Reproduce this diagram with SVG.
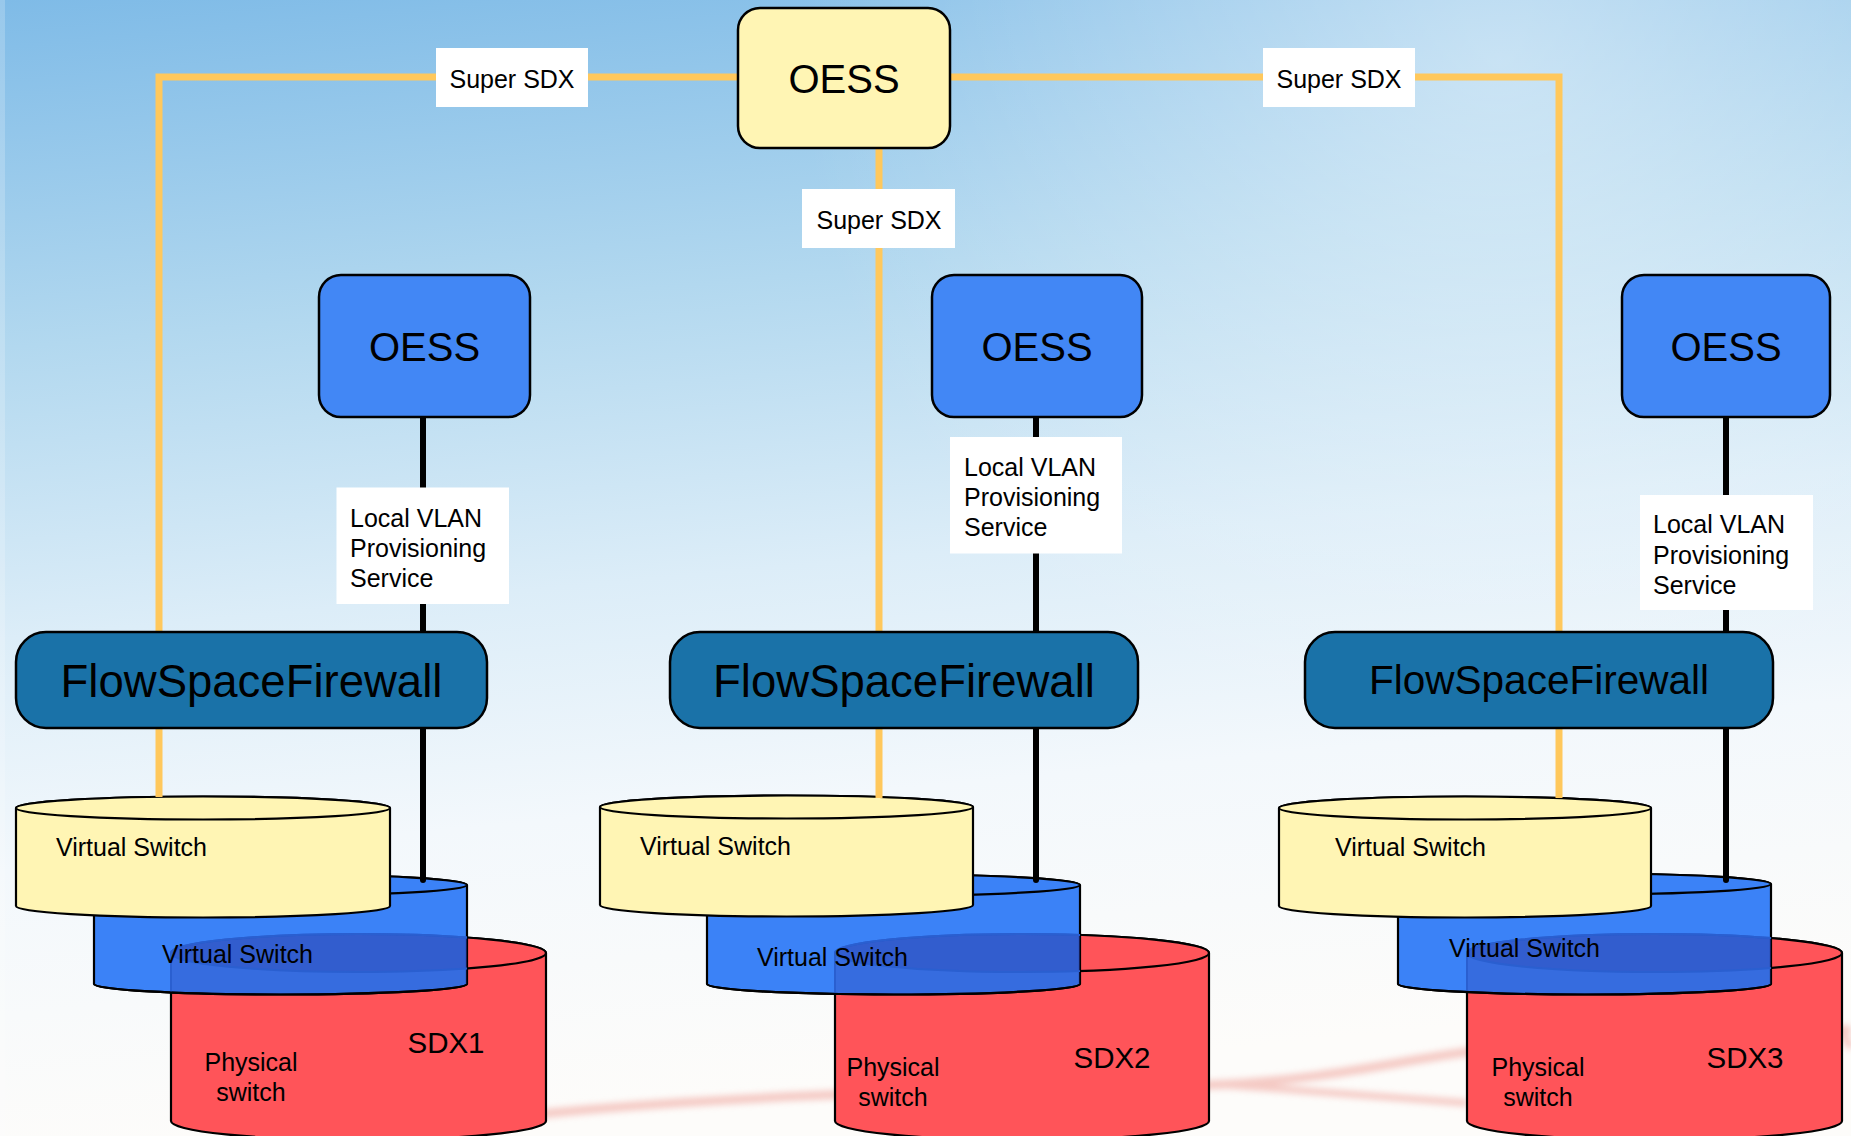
<svg xmlns="http://www.w3.org/2000/svg" width="1851" height="1136" viewBox="0 0 1851 1136">
<defs>
<linearGradient id="bg" x1="0" y1="0" x2="0.15" y2="1">
<stop offset="0" stop-color="#7fbbe7"/>
<stop offset="0.3" stop-color="#b2d8ef"/>
<stop offset="0.55" stop-color="#dcedf8"/>
<stop offset="0.75" stop-color="#f3f8fc"/>
<stop offset="1" stop-color="#fdfcfa"/>
</linearGradient>
<radialGradient id="hl" cx="1500" cy="60" r="700" gradientUnits="userSpaceOnUse">
<stop offset="0" stop-color="#ffffff" stop-opacity="0.45"/>
<stop offset="1" stop-color="#ffffff" stop-opacity="0"/>
</radialGradient>
<filter id="blur" x="-10%" y="-50%" width="120%" height="200%"><feGaussianBlur stdDeviation="3"/></filter>
<clipPath id="cb1"><path d="M94,885 L94,984 A186.5,10.5 0 0 0 467,984 L467,885 A186.5,10.5 0 0 0 94,885 Z"/></clipPath>
<clipPath id="cb2"><path d="M707,885 L707,984 A186.5,10.5 0 0 0 1080,984 L1080,885 A186.5,10.5 0 0 0 707,885 Z"/></clipPath>
<clipPath id="cb3"><path d="M1398,884 L1398,984 A186.5,10.5 0 0 0 1771,984 L1771,884 A186.5,10.5 0 0 0 1398,884 Z"/></clipPath>
</defs>
<style>
text{font-family:"Liberation Sans",Arial,Helvetica,sans-serif;fill:#000}
.oess-top{fill:#fff5b4;stroke:#000;stroke-width:2.5}
.oess{fill:#4287f5;stroke:#000;stroke-width:2.5}
.fsf{fill:#1a72a8;stroke:#000;stroke-width:2.5}
.yel{fill:#fff5b4;stroke:#000;stroke-width:2.2}
.blu{fill:#3b82f7;stroke:#000;stroke-width:2.2}
.red{fill:#ff5459;stroke:#000;stroke-width:2.2}
.ovl{fill:#2a3ca8;fill-opacity:0.3;stroke:#2a5fd0;stroke-width:2}
.lbl{fill:#ffffff}
.orange{fill:none;stroke:#ffc85c;stroke-width:7}
.black{fill:none;stroke:#000;stroke-width:6;stroke-linecap:round}
.big{font-size:40px}
.fsft{font-size:45.5px}
.sm{font-size:25px}
.sdx{font-size:29.5px}
</style>
<rect x="0" y="0" width="1851" height="1136" fill="url(#bg)"/>
<rect x="0" y="0" width="1851" height="700" fill="url(#hl)"/>
<rect x="0" y="0" width="5" height="1136" fill="#ffffff" opacity="0.2"/>
<g filter="url(#blur)" opacity="0.55">
<path d="M540,1114 C760,1092 1000,1090 1210,1085 C1330,1080 1400,1060 1467,1052 C1600,1038 1750,1030 1851,1030" fill="none" stroke="#eea29a" stroke-width="9"/>
<path d="M1210,1084 C1300,1090 1400,1098 1467,1103" fill="none" stroke="#eea29a" stroke-width="7"/>
<path d="M1842,1032 L1851,1048" fill="none" stroke="#eea29a" stroke-width="8"/>
</g>

<g id="sdx1-physical">
<path class="red" d="M171,953 L171,1121 A187.5,19 0 0 0 546,1121 L546,953 A187.5,19 0 0 0 171,953 Z"/>
<ellipse class="red" cx="358.5" cy="953" rx="187.5" ry="19"/>
<text class="sm" x="251" y="1071" text-anchor="middle">Physical</text>
<text class="sm" x="251" y="1101" text-anchor="middle">switch</text>
<text class="sdx" x="446" y="1053" text-anchor="middle">SDX1</text>
</g>
<g id="sdx2-physical">
<path class="red" d="M835,953 L835,1121 A187,19 0 0 0 1209,1121 L1209,953 A187,19 0 0 0 835,953 Z"/>
<ellipse class="red" cx="1022" cy="953" rx="187" ry="19"/>
<text class="sm" x="893" y="1076" text-anchor="middle">Physical</text>
<text class="sm" x="893" y="1106" text-anchor="middle">switch</text>
<text class="sdx" x="1112" y="1068" text-anchor="middle">SDX2</text>
</g>
<g id="sdx3-physical">
<path class="red" d="M1467,953 L1467,1121 A187.5,19 0 0 0 1842,1121 L1842,953 A187.5,19 0 0 0 1467,953 Z"/>
<ellipse class="red" cx="1654.5" cy="953" rx="187.5" ry="19"/>
<text class="sm" x="1538" y="1076" text-anchor="middle">Physical</text>
<text class="sm" x="1538" y="1106" text-anchor="middle">switch</text>
<text class="sdx" x="1745" y="1068" text-anchor="middle">SDX3</text>
</g>

<g id="sdx1-virtual-blue">
<path class="blu" d="M94,885 L94,984 A186.5,10.5 0 0 0 467,984 L467,885 A186.5,10.5 0 0 0 94,885 Z"/>
<g clip-path="url(#cb1)">
<path class="ovl" d="M171,953 L171,1121 A187.5,19 0 0 0 546,1121 L546,953 A187.5,19 0 0 0 171,953 Z" stroke="none"/>
<ellipse class="ovl" cx="358.5" cy="953" rx="187.5" ry="19" fill="none"/>
</g>
<path d="M94,984 A186.5,10.5 0 0 0 467,984" fill="none" stroke="#000" stroke-width="2.2"/>
<ellipse class="blu" cx="280.5" cy="885" rx="186.5" ry="10.5"/>
<text class="sm" x="162" y="963">Virtual Switch</text>
</g>
<g id="sdx2-virtual-blue">
<path class="blu" d="M707,885 L707,984 A186.5,10.5 0 0 0 1080,984 L1080,885 A186.5,10.5 0 0 0 707,885 Z"/>
<g clip-path="url(#cb2)">
<path class="ovl" d="M835,953 L835,1121 A187,19 0 0 0 1209,1121 L1209,953 A187,19 0 0 0 835,953 Z" stroke="none"/>
<ellipse class="ovl" cx="1022" cy="953" rx="187" ry="19" fill="none"/>
</g>
<path d="M707,984 A186.5,10.5 0 0 0 1080,984" fill="none" stroke="#000" stroke-width="2.2"/>
<ellipse class="blu" cx="893.5" cy="885" rx="186.5" ry="10.5"/>
<text class="sm" x="757" y="966">Virtual Switch</text>
</g>
<g id="sdx3-virtual-blue">
<path class="blu" d="M1398,884 L1398,984 A186.5,10.5 0 0 0 1771,984 L1771,884 A186.5,10.5 0 0 0 1398,884 Z"/>
<g clip-path="url(#cb3)">
<path class="ovl" d="M1467,953 L1467,1121 A187.5,19 0 0 0 1842,1121 L1842,953 A187.5,19 0 0 0 1467,953 Z" stroke="none"/>
<ellipse class="ovl" cx="1654.5" cy="953" rx="187.5" ry="19" fill="none"/>
</g>
<path d="M1398,984 A186.5,10.5 0 0 0 1771,984" fill="none" stroke="#000" stroke-width="2.2"/>
<ellipse class="blu" cx="1584.5" cy="884" rx="186.5" ry="10.5"/>
<text class="sm" x="1449" y="957">Virtual Switch</text>
</g>

<g id="sdx1-virtual-yellow">
<path class="yel" d="M16,808 L16,906 A187,11.5 0 0 0 390,906 L390,808 A187,11.5 0 0 0 16,808 Z"/>
<ellipse class="yel" cx="203" cy="808" rx="187" ry="11.5"/>
<text class="sm" x="56" y="856">Virtual Switch</text>
</g>
<g id="sdx2-virtual-yellow">
<path class="yel" d="M600,807 L600,905 A186.5,11.5 0 0 0 973,905 L973,807 A186.5,11.5 0 0 0 600,807 Z"/>
<ellipse class="yel" cx="786.5" cy="807" rx="186.5" ry="11.5"/>
<text class="sm" x="640" y="855">Virtual Switch</text>
</g>
<g id="sdx3-virtual-yellow">
<path class="yel" d="M1279,808 L1279,906 A186,11.5 0 0 0 1651,906 L1651,808 A186,11.5 0 0 0 1279,808 Z"/>
<ellipse class="yel" cx="1465" cy="808" rx="186" ry="11.5"/>
<text class="sm" x="1335" y="856">Virtual Switch</text>
</g>

<g id="connectors">
<path class="orange" d="M159,797 L159,77 L1559,77 L1559,798"/>
<path class="orange" d="M879,148 L879,798"/>
<path class="black" d="M423,417 L423,880"/>
<path class="black" d="M1036,417 L1036,880"/>
<path class="black" d="M1726,417 L1726,880"/>
<rect class="lbl" x="436" y="48" width="152" height="59"/>
<text class="sm" x="512" y="88" text-anchor="middle">Super SDX</text>
<rect class="lbl" x="1263" y="48" width="152" height="59"/>
<text class="sm" x="1339" y="88" text-anchor="middle">Super SDX</text>
<rect class="lbl" x="802" y="189" width="153" height="59"/>
<text class="sm" x="879" y="229" text-anchor="middle">Super SDX</text>
<rect class="lbl" x="336.5" y="487.5" width="172.5" height="116.5"/>
<text class="sm" x="350" y="527">Local VLAN</text>
<text class="sm" x="350" y="557">Provisioning</text>
<text class="sm" x="350" y="587">Service</text>
<rect class="lbl" x="950" y="437" width="172" height="116.5"/>
<text class="sm" x="964" y="476">Local VLAN</text>
<text class="sm" x="964" y="506">Provisioning</text>
<text class="sm" x="964" y="536">Service</text>
<rect class="lbl" x="1640" y="495" width="173" height="115"/>
<text class="sm" x="1653" y="533">Local VLAN</text>
<text class="sm" x="1653" y="564">Provisioning</text>
<text class="sm" x="1653" y="594">Service</text>
</g>

<g id="fsf1">
<rect class="fsf" x="16" y="632" width="471" height="96" rx="30" ry="30"/>
<text class="fsft" x="251.5" y="697" text-anchor="middle">FlowSpaceFirewall</text>
</g>
<g id="fsf2">
<rect class="fsf" x="670" y="632" width="468" height="96" rx="30" ry="30"/>
<text class="fsft" x="904" y="697" text-anchor="middle">FlowSpaceFirewall</text>
</g>
<g id="fsf3">
<rect class="fsf" x="1305" y="632" width="468" height="96" rx="30" ry="30"/>
<text x="1539" y="694" text-anchor="middle" style="font-size:40.5px">FlowSpaceFirewall</text>
</g>

<g id="oess-super">
<rect class="oess-top" x="738" y="8" width="212" height="140" rx="22" ry="22"/>
<text class="big" x="844" y="93" text-anchor="middle">OESS</text>
</g>
<g id="oess1">
<rect class="oess" x="319" y="275" width="211" height="142" rx="22" ry="22"/>
<text class="big" x="424.5" y="361" text-anchor="middle">OESS</text>
</g>
<g id="oess2">
<rect class="oess" x="932" y="275" width="210" height="142" rx="22" ry="22"/>
<text class="big" x="1037" y="361" text-anchor="middle">OESS</text>
</g>
<g id="oess3">
<rect class="oess" x="1622" y="275" width="208" height="142" rx="22" ry="22"/>
<text class="big" x="1726" y="361" text-anchor="middle">OESS</text>
</g>
</svg>
